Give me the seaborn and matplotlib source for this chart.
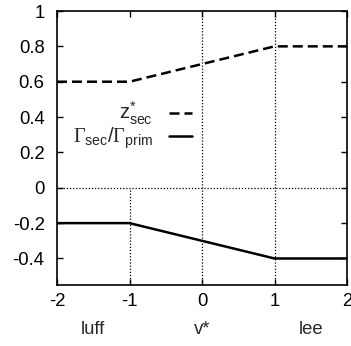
import matplotlib
matplotlib.use("Agg")
import matplotlib.pyplot as plt
import seaborn as sns
import pandas as pd

sns.set_style("ticks")
plt.rcParams["font.family"] = ["Liberation Sans", "DejaVu Sans"]
plt.rcParams["mathtext.fontset"] = "custom"
plt.rcParams["mathtext.rm"] = "Liberation Sans"
plt.rcParams["mathtext.it"] = "Liberation Sans"
plt.rcParams["mathtext.bf"] = "Liberation Serif"

# piecewise-linear profiles across the span (v* from luff to lee)
v_star = [-2, -1, 1, 2]
z_sec = [0.6, 0.6, 0.8, 0.8]
gamma_ratio = [-0.2, -0.2, -0.4, -0.4]

x_ticks = [-2, -1, 0, 1, 2]
y_ticks = [-0.4, -0.2, 0, 0.2, 0.4, 0.6, 0.8, 1]
y_tick_labels = ["-0.4", "-0.2", "0", "0.2", "0.4", "0.6", "0.8", "1"]
bottom_labels = ["luff", "v*", "lee"]
bottom_pos = [-1.5, 0, 1.5]

label_z = r"$z^{*}_{\rm sec}$"
label_g = r"$\mathbf{\Gamma}_{\rm sec}/\mathbf{\Gamma}_{\rm prim}$"

FS = 13.3
FS_LEG = 14.5

df = pd.DataFrame({"v": v_star + v_star,
                   "val": z_sec + gamma_ratio,
                   "series": [label_z] * len(v_star) + [label_g] * len(v_star)})

fig = plt.figure(figsize=(3.51, 3.46), dpi=100)
ax = fig.add_axes([57 / 351, 1 - 285 / 346, 290 / 351, 274 / 346])

# dotted reference lines
dot = dict(color="black", lw=0.9, ls=(0, (1, 1.5)), zorder=1)
ax.axhline(0, **dot)
ax.axvline(0, **dot)
ax.axvline(1, **dot)
ax.plot([-1, -1], [-0.55, 0], **dot)

sns.lineplot(data=df, x="v", y="val", hue="series", style="series",
             palette=["black", "black"],
             dashes={label_z: (4, 2), label_g: ""},
             linewidth=1.8, ax=ax, zorder=3)

ax.set_xlim(-2, 2)
ax.set_ylim(-0.55, 1)
ax.set_xticks(x_ticks)
ax.set_xticklabels([str(t) for t in x_ticks])
ax.set_yticks(y_ticks)
ax.set_yticklabels(y_tick_labels)
ax.tick_params(direction="in", length=4, width=1, top=True, right=True,
               labelsize=FS, colors="black")
ax.tick_params(axis="y", pad=9)
ax.tick_params(axis="x", pad=6)
for s in ax.spines.values():
    s.set_linewidth(1.2)
    s.set_color("black")

ax.set_xlabel("")
ax.set_ylabel("")
for lab, pos in zip(bottom_labels, bottom_pos):
    ax.annotate(lab, xy=(pos, 0), xycoords=("data", "axes fraction"),
                xytext=(0, -32), textcoords="offset points",
                ha="center", va="center", fontsize=FS)

handles, labels = ax.get_legend_handles_labels()
ax.legend(handles, labels, loc="upper right", bbox_to_anchor=(0.466, 0.675),
          frameon=False, markerfirst=False, fontsize=FS_LEG, handlelength=1.15,
          handletextpad=0.8, labelspacing=-0.08, borderpad=0, borderaxespad=0)

fig.savefig("out.png", dpi=100)
